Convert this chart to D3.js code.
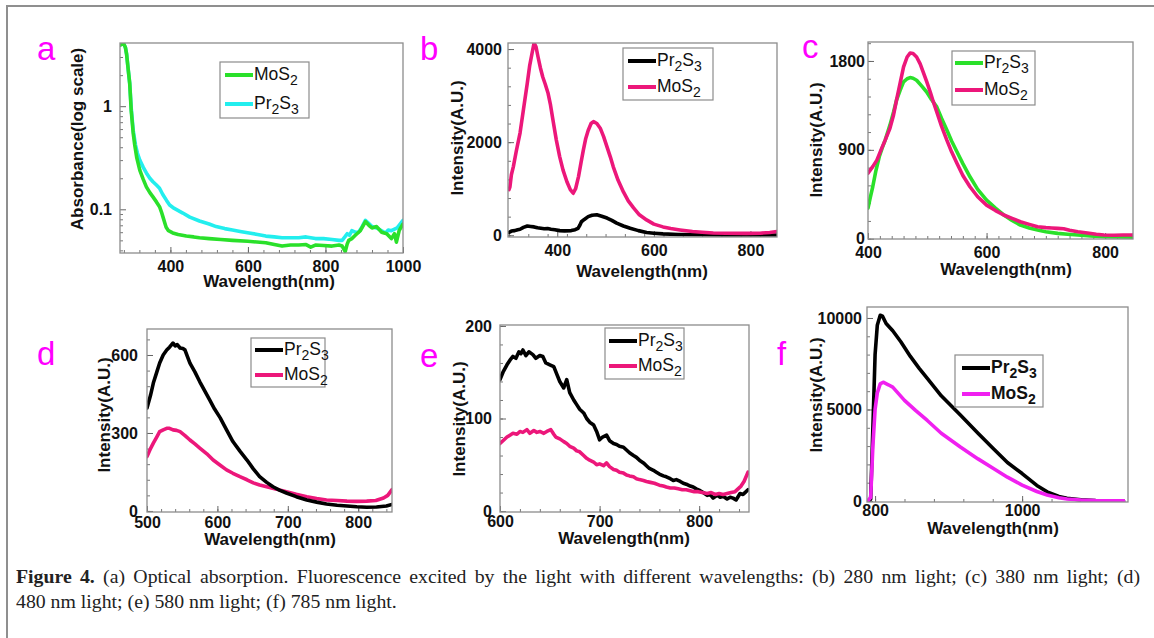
<!DOCTYPE html>
<html><head><meta charset="utf-8">
<script src="https://cdn.jsdelivr.net/npm/d3@7"></script>
<style>body{margin:0;background:#fff} svg{display:block}</style>
</head><body><svg id="c" width="1154" height="638"></svg>
<script>
// ---------- DATA (wavelength nm, value) ----------
const aMoS2 = [[270,3.9],[275,4.0],[280,4.0],[284,3.7],[287,3.2],[291,2.3],[295,1.67],[299,0.9],[304,0.55],[308,0.42],[313,0.32],[321,0.24],[330,0.195],[338,0.165],[347,0.145],[355,0.132],[364,0.118],[372,0.106],[377,0.094],[381,0.084],[385,0.075],[389,0.067],[395,0.062],[406,0.059],[420,0.057],[441,0.055],[460,0.054],[475,0.053],[500,0.052],[530,0.051],[560,0.050],[600,0.049],[646,0.0474],[668,0.0455],[688,0.044],[710,0.045],[731,0.045],[750,0.0455],[762,0.043],[774,0.045],[795,0.0445],[817,0.044],[835,0.045],[843,0.044],[851,0.039],[856,0.046],[860,0.05],[868,0.052],[877,0.056],[890,0.062],[903,0.076],[912,0.07],[920,0.066],[932,0.068],[945,0.06],[958,0.058],[970,0.052],[978,0.058],[983,0.048],[990,0.062],[1000,0.072]];
const aPr2S3 = [[270,3.9],[275,4.05],[280,4.0],[284,3.7],[287,3.2],[291,2.3],[295,1.67],[299,0.95],[304,0.585],[310,0.42],[315,0.35],[321,0.3],[330,0.255],[338,0.225],[347,0.2],[355,0.185],[364,0.172],[372,0.16],[380,0.14],[390,0.122],[398,0.11],[410,0.102],[432,0.092],[450,0.084],[475,0.077],[500,0.072],[518,0.068],[540,0.065],[560,0.063],[580,0.061],[603,0.059],[625,0.057],[646,0.055],[668,0.054],[688,0.053],[710,0.053],[731,0.053],[750,0.054],[774,0.052],[795,0.052],[817,0.051],[835,0.05],[843,0.05],[850,0.054],[856,0.058],[862,0.056],[868,0.062],[877,0.06],[885,0.06],[893,0.066],[903,0.078],[910,0.074],[920,0.068],[932,0.066],[945,0.062],[955,0.059],[962,0.063],[970,0.062],[985,0.066],[1000,0.078]];

const bPr2S3 = [[300,60],[305,90],[312,100],[318,120],[323,130],[330,170],[338,200],[345,190],[352,180],[359,160],[366,150],[373,140],[380,145],[387,130],[395,120],[405,100],[415,95],[429,100],[437,120],[443,150],[447,220],[450,290],[456,340],[464,400],[472,430],[482,440],[492,410],[503,370],[513,320],[523,260],[537,200],[551,150],[568,100],[585,60],[600,45],[619,30],[650,18],[700,10],[750,6],[800,5],[855,5]];
const bMoS2 = [[300,980],[302,1040],[305,1300],[309,1470],[315,1800],[323,2200],[330,2700],[338,3270],[343,3650],[348,3920],[352,4130],[356,4050],[360,3840],[365,3600],[370,3400],[375,3250],[381,3050],[386,2800],[391,2480],[398,2050],[405,1690],[412,1400],[420,1150],[427,980],[433,903],[438,1000],[444,1260],[449,1550],[454,1830],[459,2080],[464,2250],[470,2400],[475,2440],[482,2400],[489,2300],[496,2120],[503,1900],[510,1680],[516,1470],[526,1180],[537,930],[547,740],[558,590],[570,440],[585,330],[600,240],[619,180],[635,145],[654,115],[680,80],[700,65],[723,50],[750,45],[792,40],[820,45],[840,60],[855,80]];

const cPr2S3 = [[400,310],[404,420],[408,526],[413,680],[419,830],[424,920],[429,998],[437,1150],[443,1280],[448,1400],[454,1500],[460,1588],[466,1620],[471,1632],[476,1625],[482,1605],[490,1550],[499,1486],[507,1410],[516,1335],[524,1220],[533,1100],[541,990],[550,880],[560,760],[572,627],[585,500],[600,391],[615,310],[629,240],[643,185],[657,138],[672,108],[686,88],[700,70],[720,54],[737,45],[754,37],[775,28],[798,20],[820,17],[847,15]];
const cMoS2 = [[400,664],[408,730],[415,796],[422,900],[429,998],[437,1118],[443,1250],[448,1400],[454,1570],[460,1740],[466,1840],[471,1880],[476,1875],[482,1840],[488,1770],[493,1690],[499,1590],[505,1486],[510,1390],[516,1284],[524,1140],[533,998],[541,880],[550,763],[560,640],[572,526],[585,425],[600,340],[615,285],[629,240],[643,205],[657,172],[672,145],[686,121],[700,112],[710,108],[720,105],[730,100],[740,85],[754,71],[770,58],[785,45],[798,37],[815,35],[830,38],[847,37]];

const dPr2S3 = [[500,396],[505,445],[509,492],[514,535],[518,569],[523,600],[528,619],[532,630],[537,646],[540,635],[543,640],[547,627],[551,625],[554,619],[558,590],[561,569],[568,535],[575,497],[582,462],[589,427],[596,392],[604,358],[613,312],[622,267],[632,230],[642,196],[651,162],[660,132],[670,110],[679,93],[688,80],[698,69],[712,55],[727,42],[741,34],[755,27],[770,22],[784,19],[798,16],[812,14],[826,15],[840,19],[848,25]];
const dMoS2 = [[500,209],[505,240],[509,261],[514,285],[518,305],[523,312],[528,318],[532,318],[537,312],[542,310],[547,305],[554,290],[561,273],[568,258],[575,242],[585,220],[594,196],[604,176],[613,158],[622,145],[632,132],[642,120],[651,108],[660,100],[670,93],[684,84],[698,74],[712,64],[727,55],[741,48],[755,42],[770,40],[784,38],[798,37],[812,38],[825,40],[836,50],[842,60],[848,82]];

const ePr2S3 = [[600,142],[603,150],[607,158],[610,163],[613,167],[616,165],[619,172],[621,170],[623,174],[626,168],[629,172],[633,169],[636,165],[640,168],[643,167],[646,160],[650,158],[654,156],[657,148],[660,140],[664,133],[667,142],[670,128],[674,120],[677,115],[680,110],[684,106],[687,100],[690,96],[694,93],[697,86],[700,77],[703,80],[707,82],[710,76],[714,73],[717,72],[720,70],[724,69],[727,66],[730,63],[734,60],[737,58],[740,55],[744,52],[747,49],[750,46],[754,44],[757,42],[760,40],[764,38],[767,37],[771,35],[774,33],[777,34],[781,32],[784,30],[787,29],[791,27],[794,26],[797,24],[801,22],[804,20],[808,17],[811,18],[814,14],[818,17],[821,15],[824,16],[828,13],[831,15],[834,14],[837,12],[841,19],[844,18],[846,20],[849,23]];
const eMoS2 = [[600,73],[603,76],[607,80],[610,82],[613,84],[617,83],[620,86],[623,85],[627,88],[630,84],[634,87],[637,85],[640,86],[644,84],[647,86],[651,88],[654,83],[656,80],[660,78],[664,75],[667,73],[670,70],[674,68],[677,65],[680,64],[684,60],[687,57],[690,55],[694,53],[697,50],[700,51],[704,49],[707,52],[710,48],[714,45],[717,44],[720,42],[724,41],[727,39],[730,38],[734,37],[737,35],[740,34],[744,33],[747,32],[751,31],[755,30],[760,28],[764,27],[767,26],[771,25],[775,25],[779,24],[783,23],[787,23],[791,22],[795,21],[799,21],[803,20],[808,19],[812,20],[816,18],[820,19],[824,18],[828,19],[832,20],[836,21],[839,24],[842,27],[845,32],[849,42]];

const fPr2S3 = [[790,0],[794,100],[797,4000],[800,8000],[803,9600],[807,10150],[810,10100],[815,9700],[824,9300],[835,8700],[848,7900],[860,7250],[871,6700],[890,5750],[916,4700],[940,3700],[961,2850],[980,2100],[1000,1500],[1020,850],[1034,500],[1050,250],[1061,150],[1080,60],[1100,20],[1138,0]];
const fMoS2 = [[790,0],[794,200],[797,3000],[800,5000],[803,5900],[807,6400],[811,6490],[818,6350],[824,6220],[840,5500],[855,4950],[871,4400],[890,3700],[916,2950],[940,2300],[961,1780],[980,1300],[1000,870],[1020,520],[1034,330],[1050,180],[1061,110],[1080,50],[1100,20],[1138,5]];

// tick labels
const aXTicks = [400,600,800,1000], aYTicks = [0.1,1];
const bXTicks = [400,600,800], bYTicks = [0,2000,4000];
const cXTicks = [400,600,800], cYTicks = [0,900,1800];
const dXTicks = [500,600,700,800], dYTicks = [0,300,600];
const eXTicks = [600,700,800], eYTicks = [0,100,200];
const fXTicks = [800,1000], fYTicks = [0,5000,10000];

const captionLine1Bold = "Figure 4.";
const captionLine1 = " (a) Optical absorption. Fluorescence excited by the light with different wavelengths: (b) 280 nm light; (c) 380 nm light; (d)";
const captionLine2 = "480 nm light; (e) 580 nm light; (f) 785 nm light.";

const names = {Pr2S3:[["Pr",""],["2","sub"],["S",""],["3","sub"]], MoS2:[["MoS",""],["2","sub"]]};

const GREEN="#2ae02a", CYAN="#22eeee", PINK="#ec177a", MAG="#f020f0", BLACK="#000";

const panels = [
 {id:"a", x0:120,x1:403,y0:43,y1:253, xd:[270,1000], yd:[0.0377,4.1], log:true,
  xt:aXTicks, yt:aYTicks, xm:d3.range(280,1001,40), ym:[0.04,0.05,0.06,0.07,0.08,0.09,0.2,0.3,0.4,0.5,0.6,0.7,0.8,0.9,2,3,4],
  fmt:d=>d===1?"1":"0.1", xpad:8, ygap:8,
  ytitle:"Absorbance(log scale)", yt_x:83, yt_y:139, xt_x:269, xt_y:287,
  letter:[37,60],
  series:[{n:"Pr2S3",d:aPr2S3,c:CYAN},{n:"MoS2",d:aMoS2,c:GREEN}],
  leg:{box:[220,62,309,118], lx:225, items:[{n:"MoS2",c:GREEN,y:75},{n:"Pr2S3",c:CYAN,y:104}]}},
 {id:"b", x0:508,x1:777,y0:43,y1:237, xd:[298,855], yd:[-37,4130],
  xt:bXTicks, yt:bYTicks, xm:d3.range(300,856,40), ym:d3.range(0,4001,400),
  fmt:d3.format("d"), xpad:8, ygap:6,
  ytitle:"Intensity(A.U.)", yt_x:463, yt_y:138, xt_x:642, xt_y:277,
  letter:[420,60],
  series:[{n:"Pr2S3",d:bPr2S3,c:BLACK},{n:"MoS2",d:bMoS2,c:PINK}],
  leg:{box:[623,48,713,100], lx:628, items:[{n:"Pr2S3",c:BLACK,y:61},{n:"MoS2",c:PINK,y:87}]}},
 {id:"c", x0:868,x1:1133,y0:42,y1:239, xd:[400,847], yd:[-3,1992],
  xt:cXTicks, yt:cYTicks, xm:d3.range(400,848,20), ym:d3.range(0,1981,180),
  fmt:d3.format("d"), xpad:8, ygap:3,
  ytitle:"Intensity(A.U.)", yt_x:822, yt_y:140, xt_x:1006, xt_y:275,
  letter:[802,58],
  series:[{n:"Pr2S3",d:cPr2S3,c:GREEN},{n:"MoS2",d:cMoS2,c:PINK}],
  leg:{box:[952,51,1035,105], lx:955, items:[{n:"Pr2S3",c:GREEN,y:63},{n:"MoS2",c:PINK,y:90}]}},
 {id:"d", x0:147,x1:392,y0:329,y1:512, xd:[500,848], yd:[-4,700],
  xt:dXTicks, yt:dYTicks, xm:d3.range(500,849,20), ym:d3.range(0,700,60),
  fmt:d3.format("d"), xpad:5, ygap:9,
  ytitle:"Intensity(A.U.)", yt_x:110, yt_y:415, xt_x:270, xt_y:545,
  letter:[37,365],
  series:[{n:"MoS2",d:dMoS2,c:PINK},{n:"Pr2S3",d:dPr2S3,c:BLACK}],
  leg:{box:[251,338,325,387], lx:255, items:[{n:"Pr2S3",c:BLACK,y:350},{n:"MoS2",c:PINK,y:375}]}},
 {id:"e", x0:500,x1:749,y0:325,y1:512, xd:[600,850], yd:[-1,201],
  xt:eXTicks, yt:eYTicks, xm:d3.range(600,851,20), ym:d3.range(0,201,20),
  fmt:d3.format("d"), xpad:4, ygap:8,
  ytitle:"Intensity(A.U.)", yt_x:465, yt_y:419, xt_x:624, xt_y:544,
  letter:[420,367],
  series:[{n:"Pr2S3",d:ePr2S3,c:BLACK},{n:"MoS2",d:eMoS2,c:PINK}],
  leg:{box:[605,328,684,379], lx:609, items:[{n:"Pr2S3",c:BLACK,y:341},{n:"MoS2",c:PINK,y:366}]}},
 {id:"f", x0:867,x1:1128,y0:307,y1:502, xd:[789,1144], yd:[-55,10600],
  xt:fXTicks, yt:fYTicks, xm:d3.range(800,1141,40), ym:d3.range(0,10501,1000),
  fmt:d3.format("d"), xpad:3, ygap:5,
  ytitle:"Intensity(A.U.)", yt_x:822, yt_y:395, xt_x:993, xt_y:534,
  letter:[777,365], boldLegend:true,
  series:[{n:"Pr2S3",d:fPr2S3,c:BLACK},{n:"MoS2",d:fMoS2,c:MAG}],
  leg:{box:[955,355,1043,407], lx:962, items:[{n:"Pr2S3",c:BLACK,y:368},{n:"MoS2",c:MAG,y:394}]}}
];

const svg = d3.select("#c");
svg.append("rect").attr("width",1154).attr("height",638).attr("fill","#fff");
// outer frame
svg.append("rect").attr("x",7).attr("y",6).attr("width",1160).attr("height",660)
  .attr("fill","none").attr("stroke","#8f8f8f").attr("stroke-width",2);

const FONT = "'Liberation Sans', Arial, sans-serif";
const defs = svg.append("defs");

function addName(textSel, key, size){
  const parts = names[key];
  let shifted = false;
  parts.forEach(([t,k])=>{
    const ts = textSel.append("tspan").text(t);
    if(k==="sub"){ ts.attr("font-size",size*0.8).attr("dy", shifted?0:5); shifted=true; }
    else { if(shifted){ ts.attr("dy",-5); shifted=false; } }
  });
}

panels.forEach(p=>{
  const g = svg.append("g").attr("font-family",FONT);
  const x = d3.scaleLinear().domain(p.xd).range([p.x0,p.x1]);
  const y = (p.log? d3.scaleLog(): d3.scaleLinear()).domain(p.yd).range([p.y1,p.y0]);

  defs.append("clipPath").attr("id","clip"+p.id).append("rect")
    .attr("x",p.x0).attr("y",p.y0).attr("width",p.x1-p.x0).attr("height",p.y1-p.y0);

  // minor ticks
  const mx = g.append("g").attr("transform",`translate(0,${p.y1})`)
    .call(d3.axisBottom(x).tickValues(p.xm.filter(v=>v>=p.xd[0]&&v<=p.xd[1])).tickSize(-3).tickFormat(""));
  const my = g.append("g").attr("transform",`translate(${p.x0},0)`)
    .call(d3.axisLeft(y).tickValues(p.ym.filter(v=>v>=p.yd[0]&&v<=p.yd[1])).tickSize(-3).tickFormat(""));
  [mx,my].forEach(s=>{ s.select(".domain").remove(); s.selectAll("line").attr("stroke","#777"); });

  // major ticks
  const ax = g.append("g").attr("transform",`translate(0,${p.y1})`)
    .call(d3.axisBottom(x).tickValues(p.xt).tickSizeInner(-6).tickSizeOuter(0).tickPadding(p.xpad).tickFormat(d3.format("d")));
  const ay = g.append("g").attr("transform",`translate(${p.x0},0)`)
    .call(d3.axisLeft(y).tickValues(p.yt).tickSizeInner(-6).tickSizeOuter(0).tickPadding(p.ygap).tickFormat(p.fmt));
  [ax,ay].forEach(s=>{
    s.select(".domain").remove();
    s.selectAll("line").attr("stroke","#666");
    s.selectAll("text").attr("font-size",16).attr("font-weight","bold").attr("fill","#111").attr("font-family",FONT);
  });

  // curves
  const line = d3.line().x(d=>x(d[0])).y(d=>y(d[1])).curve(d3.curveLinear);
  const cg = g.append("g").attr("clip-path",`url(#clip${p.id})`);
  p.series.forEach(s=>{
    cg.append("path").datum(s.d).attr("d",line).attr("fill","none")
      .attr("stroke",s.c).attr("stroke-width",3.6).attr("stroke-linejoin","round").attr("stroke-linecap","round");
  });

  // frame
  g.append("rect").attr("x",p.x0).attr("y",p.y0).attr("width",p.x1-p.x0).attr("height",p.y1-p.y0)
    .attr("fill","none").attr("stroke","#8c8c8c").attr("stroke-width",1.3);

  // titles
  g.append("text").attr("x",p.xt_x).attr("y",p.xt_y).attr("text-anchor","middle")
    .attr("font-size",17).attr("font-weight","bold").attr("fill","#111").text("Wavelength(nm)");
  g.append("text").attr("transform",`translate(${p.yt_x},${p.yt_y}) rotate(-90)`).attr("text-anchor","middle")
    .attr("font-size",17).attr("font-weight","bold").attr("fill","#111").text(p.ytitle);

  // panel letter
  g.append("text").attr("x",p.letter[0]).attr("y",p.letter[1]).attr("font-size",33)
    .attr("fill","#ff00ff").text(p.id);

  // legend
  const L = p.leg;
  g.append("rect").attr("x",L.box[0]).attr("y",L.box[1]).attr("width",L.box[2]-L.box[0]).attr("height",L.box[3]-L.box[1])
    .attr("fill","#fff").attr("stroke","#8c8c8c").attr("stroke-width",1.2);
  L.items.forEach(it=>{
    g.append("line").attr("x1",L.lx).attr("x2",L.lx+28).attr("y1",it.y).attr("y2",it.y)
      .attr("stroke",it.c).attr("stroke-width",4);
    const t = g.append("text").attr("x",L.lx+29).attr("y",it.y+5).attr("font-size",17.5).attr("fill","#111")
      .attr("font-weight",p.boldLegend?"bold":"normal");
    addName(t,it.n,17.5);
  });
});

// caption
const cap = svg.append("g").attr("font-family","'Liberation Serif', 'Times New Roman', serif").attr("font-size",19.8).attr("fill","#222");
const l1 = cap.append("text").attr("x",16).attr("y",583);
l1.append("tspan").attr("font-weight","bold").text(captionLine1Bold);
l1.append("tspan").text(captionLine1);
cap.append("text").attr("x",16).attr("y",608).text(captionLine2);
// justify first line to the reference width
const natural = l1.node().getComputedTextLength();
const spaces = (captionLine1Bold + captionLine1).split(" ").length - 1;
const target = 1124;
if (natural < target) l1.attr("word-spacing", (target - natural) / spaces);
</script></body></html>
